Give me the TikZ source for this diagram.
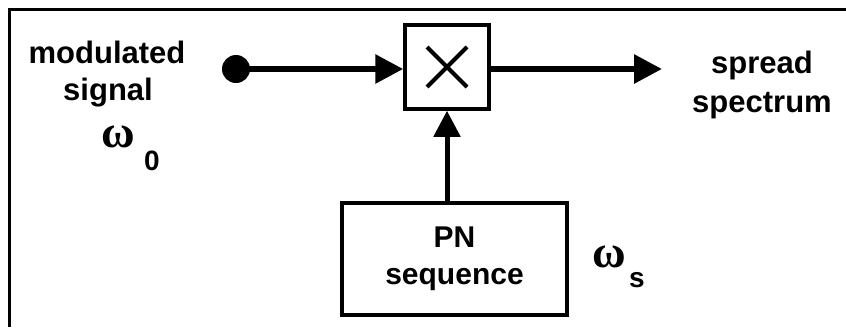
\documentclass[tikz,border=0pt]{standalone}
\usepackage{fontspec}
\setmainfont{Liberation Sans}
\newfontfamily\greekfont{Liberation Serif}
\usetikzlibrary{arrows.meta}
\begin{document}
\begin{tikzpicture}[x=1pt,y=-1pt,
  lbl/.style={inner sep=0pt,anchor=base,font=\fontsize{31}{35}\selectfont\bfseries},
  om/.style={inner sep=0pt,anchor=base west,font=\fontsize{46}{50}\selectfont\greekfont\bfseries},
  sub/.style={inner sep=0pt,anchor=base west,font=\fontsize{28}{30}\selectfont\bfseries},
  conn/.style={line width=6pt,-{Triangle[length=28pt,width=28pt]}},
  blk/.style={draw,line width=3.5pt,inner sep=0pt}]
\useasboundingbox (0,0) rectangle (846,327);
\draw[line width=3pt] (9,327) -- (9,9) -- (846,9);
% multiplier
\node[blk,minimum width=84pt,minimum height=84pt] (mult) at (447,67) {};
\draw[line width=4pt] (mult.center) ++(-20,-20) -- ++(40,40);
\draw[line width=4pt] (mult.center) ++(20,-20) -- ++(-40,40);
% input dot
\fill (236,69) circle (14pt);
\coordinate (dot) at (236,69);
\draw[conn] (dot) -- (dot -| mult.west);
% output
\coordinate (out) at (662,69);
\draw[conn] (mult.east |- out) -- (out);
% PN box
\node[blk,line width=4pt,minimum width=225pt,minimum height=112pt,align=center,
  font=\fontsize{30}{37}\selectfont\bfseries] (pn) at (454.5,259) {PN\\sequence};
\draw[line width=5pt,-{Triangle[length=26pt,width=26pt]}] (pn.north -| mult.south) -- (mult.south);
% labels
\node[lbl] (m1) at (107,63) {modulated};
\node[lbl] (m2) at (108,100) {signal};
\node[om] (w0) at (101,147) {ω};
\node[sub] (w0s) at (144,170) {0};
\node[lbl] (s1) at (762,73) {spread};
\node[lbl] (s2) at (762,112) {spectrum};
\node[om] (ws) at (592,267) {ω};
\node[sub] (wss) at (629,287) {s};
\end{tikzpicture}
\end{document}
